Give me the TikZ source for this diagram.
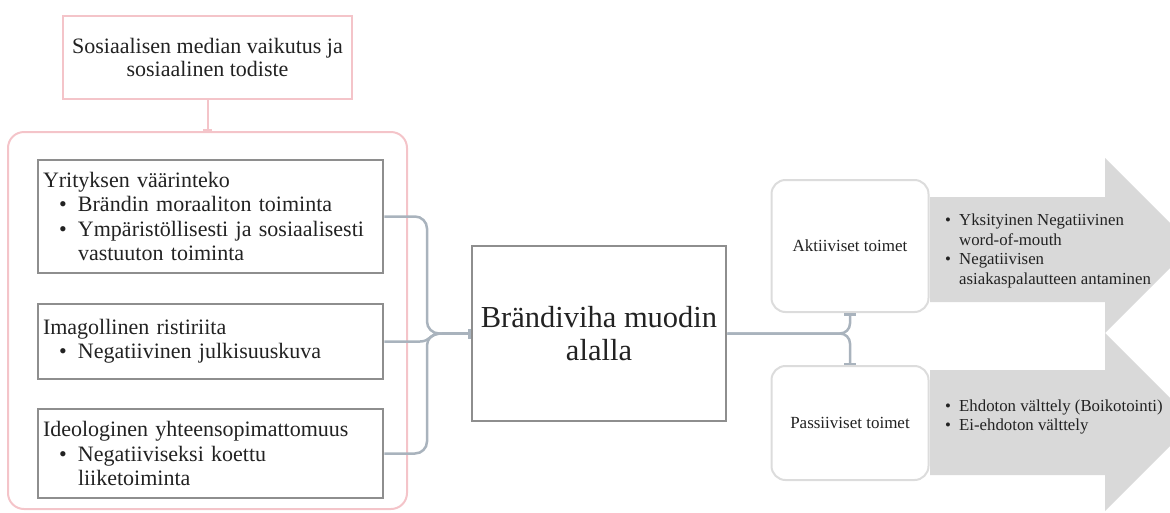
\documentclass[tikz,border=0pt]{standalone}
\usepackage{fontspec}
\setmainfont{Liberation Serif}
\usetikzlibrary{arrows.meta}
\definecolor{pinkc}{HTML}{F4C4C9}
\definecolor{gboxc}{HTML}{8E8E8E}
\definecolor{softc}{HTML}{DCDCDC}
\definecolor{connc}{HTML}{A9B3BD}
\definecolor{arrowc}{HTML}{D9D9D9}
\definecolor{txtc}{HTML}{222222}
\newcommand\bulA{\makebox[35pt][l]{\hspace*{16pt}\textbullet}}
\newcommand\indA{\hspace*{35pt}}
\newcommand\bulB{\makebox[14pt][l]{\textbullet}}
\newcommand\indB{\hspace*{14pt}}
\begin{document}
\begin{tikzpicture}[x=1pt,y=-1pt,
  every node/.style={text=txtc},
  pinkline/.style={draw=pinkc, line width=2pt},
  grpbox/.style={draw=pinkc, line width=2pt, rounded corners=16pt, minimum width=399pt, minimum height=377pt, inner sep=0pt},
  topbox/.style={draw=pinkc, line width=2pt, fill=white, minimum width=289pt, minimum height=83pt, align=center, font=\fontsize{22}{23.5}\selectfont},
  gbox/.style={draw=gboxc, line width=2.5pt, fill=white, text width=335pt, inner xsep=5pt, inner ysep=0pt, minimum width=345pt, align=left, font=\fontsize{22}{24.2}\selectfont},
  cbox/.style={draw=gboxc, line width=2.5pt, fill=white, minimum width=254pt, minimum height=175pt, align=center, font=\fontsize{30.5}{33}\selectfont},
  softbox/.style={draw=softc, line width=2pt, rounded corners=14pt, fill=white, minimum width=157pt, align=center, font=\fontsize{17}{20}\selectfont},
  conn/.style={draw=connc, line width=2.5pt},
  arrtext/.style={anchor=west, inner sep=0pt, align=left, font=\fontsize{16.8}{19.5}\selectfont},
  bigarrow/.style={fill=arrowc, draw=none}
]
\useasboundingbox (0,0) rectangle (1170,512);
\begin{scope}
\clip (0,0) rectangle (1170,512);
% gray arrows
\fill[bigarrow] (930,197) -- (1105,197) -- (1105,158) -- (1192.5,245.5) -- (1105,333) -- (1105,302) -- (930,302) -- cycle;
\fill[bigarrow] (930,370) -- (1105,370) -- (1105,333) -- (1194,422) -- (1105,511) -- (1105,475) -- (930,475) -- cycle;
\end{scope}

% left group
\node[topbox] (top) at (207.5,57.5) {Sosiaalisen median vaikutus ja\\sosiaalinen todiste};
\node[grpbox] (grp) at (207.5,320.5) {};
\draw[pinkline, -{Bar[width=9pt]}] (top.south) -- (grp.north);

\node[gbox, minimum height=113pt] (b1) at (210.5,216.5) {Yrityksen väärinteko\\\bulA Brändin moraaliton toiminta\\\bulA Ympäristöllisesti ja sosiaalisesti\\\indA vastuuton toiminta};
\node[gbox, minimum height=75pt] (b2) at (210.5,341.5) {Imagollinen ristiriita\\\bulA Negatiivinen julkisuuskuva};
\node[gbox, minimum height=89pt] (b3) at (210.5,453.5) {Ideologinen yhteensopimattomuus\\\bulA Negatiiviseksi koettu\\\indA liiketoiminta};

% center
\node[cbox] (cb) at (599,333.5) {Brändiviha muodin\\alalla};

% left connectors
\coordinate (jl) at (427,333.5);
\coordinate (jm) at (442,333.5);
\draw[conn, rounded corners=12pt] (b1.east) -| (jl) -- (cb.west);
\draw[conn, rounded corners=12pt] (b3.east) -| (jl) -- (cb.west);
\draw[conn] (b2.east) -- (420,341.5) .. controls (430,341.5) and (430,333.5) .. (jm) -- (cb.west);
\draw[conn, -{Rectangle[length=3pt,width=10pt]}] (jm) -- (cb.west);

% right side
\node[softbox, minimum height=132pt] (akt) at (850,246) {Aktiiviset toimet};
\node[softbox, minimum height=114pt] (pas) at (850,423) {Passiiviset toimet};
\draw[conn, rounded corners=10pt, -{Bar[width=12pt]}] (cb.east) -| (akt.south);
\draw[conn, rounded corners=10pt, -{Bar[width=12pt]}] (cb.east) -| (pas.north);

\node[arrtext] (t1) at (945,251) {\bulB Yksityinen Negatiivinen\\\indB word-of-mouth\\\bulB Negatiivisen\\\indB asiakaspalautteen antaminen};
\node[arrtext] (t2) at (945,417) {\bulB Ehdoton välttely (Boikotointi)\\\bulB Ei-ehdoton välttely};
\end{tikzpicture}
\end{document}
